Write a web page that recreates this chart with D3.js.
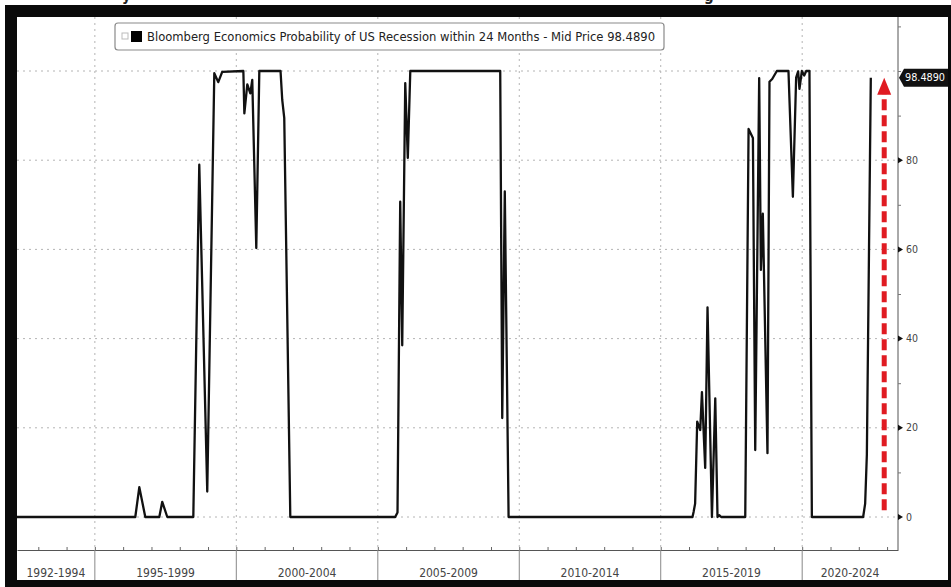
<!DOCTYPE html>
<html>
<head>
<meta charset="utf-8">
<script src="https://cdn.jsdelivr.net/npm/d3@7/dist/d3.min.js"></script>
<style>
  body { margin: 0; background: #fff; overflow: hidden; }
  svg { display: block; font-family: "DejaVu Sans Condensed", "Liberation Sans Narrow", "Liberation Sans", sans-serif; }
</style>
</head>
<body>
<script>
// probability series
const dates = [
  '1992-04-01', '1996-06-06', '1996-07-28', '1996-10-13', '1997-04-12', '1997-05-20', '1997-07-24',
  '1998-06-25', '1998-09-10', '1998-12-22', '1999-03-23', '1999-05-13', '1999-07-03',
  '2000-04-01', '2000-04-14', '2000-05-22', '2000-06-30', '2000-07-25', '2000-09-15', '2000-10-24',
  '2001-07-25', '2001-08-16', '2001-09-11', '2001-11-28',
  '2005-08-13', '2005-09-12', '2005-10-17', '2005-11-12', '2005-12-21', '2006-01-23', '2006-02-24',
  '2009-04-30', '2009-05-26', '2009-06-28', '2009-08-16',
  '2016-02-15', '2016-03-01', '2016-03-20', '2016-04-16', '2016-05-25', '2016-06-16', '2016-07-28',
  '2016-08-27', '2016-10-23', '2016-12-05', '2017-01-03', '2017-01-25', '2017-02-20', '2017-12-27',
  '2018-02-08', '2018-04-05', '2018-05-05', '2018-06-25', '2018-07-17', '2018-08-11', '2018-10-10',
  '2018-11-05', '2018-12-10', '2019-02-08', '2019-07-08', '2019-09-03', '2019-10-15', '2019-11-10',
  '2019-11-27', '2019-12-28', '2020-01-27', '2020-02-22', '2020-04-04', '2020-05-05',
  '2022-02-26', '2022-03-24', '2022-04-15', '2022-06-05'
];
const values = [
  0, 0, 6.7, 0, 0, 3.4, 0,
  0, 79, 5.7, 99.5, 97.5, 99.8,
  100, 90.5, 97, 95, 98, 60.3, 100,
  100, 93.5, 89.5, 0,
  0, 1, 70.7, 38.5, 97.3, 80.5, 100,
  100, 22.2, 73, 0,
  0, 1.2, 3, 21.4, 19.5, 28, 11,
  47, 0, 26.6, 0, 0.4, 0, 0,
  87, 85, 15, 98.4, 55.4, 68, 14.3,
  97.6, 98.2, 100, 100, 71.8, 98.5, 99.9,
  96, 100, 99, 100, 100, 0,
  0, 3, 14, 98.489
];

// x axis: five-year bands
const periodLabels = ['1992-1994', '1995-1999', '2000-2004', '2005-2009', '2010-2014', '2015-2019', '2020-2024'];
const periodBreaks = ['1995-01-01', '2000-01-01', '2005-01-01', '2010-01-01', '2015-01-01', '2020-01-01'];
const xStart = '1992-04-01';
const xEnd = '2023-05-22';

// y axis
const yGrid = [0, 20, 40, 60, 80, 100];
const yTicks = [0, 10, 20, 30, 40, 50, 60, 70, 80, 90, 100, 110];
const yLabels = [0, 20, 40, 60, 80];

const lastPrice = '98.4890';
const legendText = 'Bloomberg Economics Probability of US Recession within 24 Months - Mid Price 98.4890';

// red annotation arrow
const arrowDate = '2022-11-25';
const arrowFrom = 1.5;
const arrowTo = 98.489;

let width = 951;
let height = 587;
let plotLeft = 17, plotRight = 898, plotTop = 17, plotBottom = 550;

let svg = d3.select('body').append('svg')
  .attr('width', width)
  .attr('height', height);

svg.append('rect').attr('width', width).attr('height', height).attr('fill', '#fff');

let x = d3.scaleUtc()
  .domain([new Date(xStart), new Date(xEnd)])
  .range([plotLeft, plotRight]);

let y = d3.scaleLinear()
  .domain([0, 100])
  .range([517, 71]);

let data = dates.map((d, i) => ({ date: new Date(d), value: values[i] }));

// grid
svg.append('g').selectAll('line')
  .data(yGrid)
  .join('line')
  .attr('x1', plotLeft).attr('x2', plotRight)
  .attr('y1', d => y(d)).attr('y2', d => y(d))
  .attr('stroke', '#b4b4b4')
  .attr('stroke-dasharray', '2,4');

svg.append('g').selectAll('line')
  .data(periodBreaks)
  .join('line')
  .attr('x1', d => x(new Date(d))).attr('x2', d => x(new Date(d)))
  .attr('y1', plotTop).attr('y2', plotBottom)
  .attr('stroke', '#b4b4b4')
  .attr('stroke-dasharray', '2,4');

// legend box
let legend = svg.append('g');
legend.append('rect')
  .attr('x', 115).attr('y', 23)
  .attr('width', 549).attr('height', 27)
  .attr('rx', 3)
  .attr('fill', '#fff')
  .attr('stroke', '#8a8a8a')
  .attr('stroke-width', 1.2);
legend.append('rect')
  .attr('x', 122).attr('y', 33).attr('width', 6).attr('height', 6)
  .attr('fill', 'none').attr('stroke', '#bbb');
legend.append('rect')
  .attr('x', 131).attr('y', 31).attr('width', 11).attr('height', 11)
  .attr('fill', '#000');
legend.append('text')
  .attr('x', 147).attr('y', 41)
  .attr('font-size', 12)
  .attr('fill', '#222')
  .attr('textLength', 508)
  .attr('lengthAdjust', 'spacingAndGlyphs')
  .text(legendText);

// the series
svg.append('path')
  .datum(data)
  .attr('fill', 'none')
  .attr('stroke', '#111')
  .attr('stroke-width', 2.3)
  .attr('stroke-linejoin', 'round')
  .attr('d', d3.line().x(d => x(d.date)).y(d => y(d.value)));

// red arrow
let ax = x(new Date(arrowDate));
svg.append('line')
  .attr('x1', ax).attr('x2', ax)
  .attr('y1', y(arrowFrom)).attr('y2', y(arrowTo) + 16)
  .attr('stroke', '#e01b22')
  .attr('stroke-width', 5)
  .attr('stroke-dasharray', '11,5');
svg.append('path')
  .attr('d', `M${ax},${y(arrowTo)} L${ax - 7},${y(arrowTo) + 17} L${ax + 7},${y(arrowTo) + 17} Z`)
  .attr('fill', '#e01b22');

// bottom axis: yearly ticks
let xAxis = svg.append('g')
  .attr('transform', `translate(0,${plotBottom})`)
  .call(d3.axisTop(x)
    .ticks(d3.utcYear.every(1))
    .tickSize(3)
    .tickSizeOuter(0)
    .tickFormat(''));
xAxis.select('.domain').attr('stroke', '#555');
xAxis.selectAll('.tick line').attr('stroke', '#666');

svg.append('g').selectAll('line')
  .data(periodBreaks)
  .join('line')
  .attr('x1', d => x(new Date(d))).attr('x2', d => x(new Date(d)))
  .attr('y1', plotBottom).attr('y2', 580)
  .attr('stroke', '#888');

let bounds = [plotLeft, ...periodBreaks.map(d => x(new Date(d))), plotRight];
svg.append('g').selectAll('text')
  .data(periodLabels)
  .join('text')
  .attr('x', (d, i) => (bounds[i] + bounds[i + 1]) / 2)
  .attr('y', 577)
  .attr('text-anchor', 'middle')
  .attr('font-size', 12)
  .attr('fill', '#444')
  .text(d => d);

// right axis
svg.append('line')
  .attr('x1', plotRight).attr('x2', plotRight)
  .attr('y1', plotTop).attr('y2', plotBottom)
  .attr('stroke', '#555');

let yAxis = svg.append('g')
  .attr('transform', `translate(${plotRight},0)`)
  .call(d3.axisRight(y).tickValues(yTicks).tickSize(3).tickFormat(''));
yAxis.select('.domain').remove();
yAxis.selectAll('.tick line').attr('stroke', '#777');

svg.append('g').selectAll('path')
  .data(yLabels)
  .join('path')
  .attr('d', d => `M${plotRight},${y(d) - 3} L${plotRight + 5},${y(d)} L${plotRight},${y(d) + 3} Z`)
  .attr('fill', '#111');

svg.append('g').selectAll('text')
  .data(yLabels)
  .join('text')
  .attr('x', plotRight + 8)
  .attr('y', d => y(d))
  .attr('dy', '0.35em')
  .attr('font-size', 10.5)
  .attr('fill', '#444')
  .text(d => d);

// last price tag
let py = y(+lastPrice);
svg.append('path')
  .attr('d', `M${plotRight + 1},${py} L${plotRight + 6},${py - 9} L948,${py - 9} L948,${py + 9} L${plotRight + 6},${py + 9} Z`)
  .attr('fill', '#111');
svg.append('text')
  .attr('x', 925).attr('y', py)
  .attr('dy', '0.35em')
  .attr('text-anchor', 'middle')
  .attr('font-size', 10)
  .attr('fill', '#fff')
  .attr('textLength', 40)
  .attr('lengthAdjust', 'spacingAndGlyphs')
  .text(lastPrice);

// cropped title above the frame (only descenders visible)
svg.append('text').attr('x', 122).attr('y', 1).attr('font-size', 15).attr('font-weight', 'bold').attr('fill', '#222').text('y');
svg.append('text').attr('x', 704).attr('y', 1).attr('font-size', 15).attr('font-weight', 'bold').attr('fill', '#222').text('g');

// black frame
svg.append('rect').attr('x', 5).attr('y', 5).attr('width', width - 5).attr('height', 12).attr('fill', '#0a0a0a');
svg.append('rect').attr('x', 5).attr('y', 5).attr('width', 12).attr('height', height - 5).attr('fill', '#0a0a0a');
svg.append('rect').attr('x', 5).attr('y', 580).attr('width', width - 5).attr('height', 7).attr('fill', '#0a0a0a');
svg.append('rect').attr('x', 948).attr('y', 5).attr('width', 3).attr('height', height - 5).attr('fill', '#0a0a0a');
</script>
</body>
</html>
